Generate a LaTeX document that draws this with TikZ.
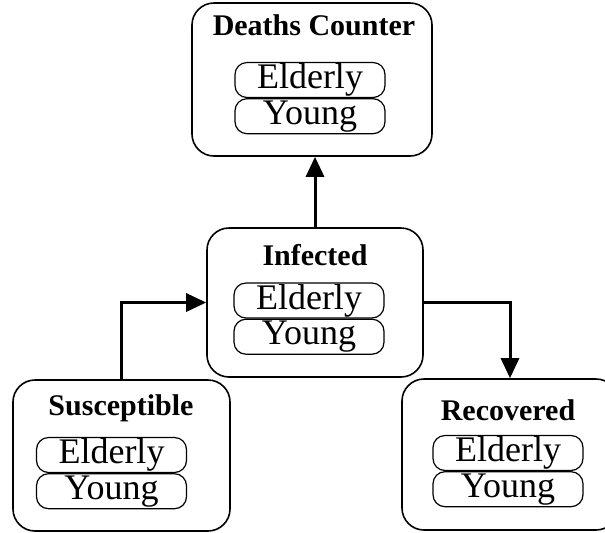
\documentclass[tikz,border=0pt]{standalone}
\usepackage{fontspec}
\setmainfont{Liberation Serif}
\usetikzlibrary{arrows.meta,positioning}
\begin{document}
\begin{tikzpicture}[x=0.5pt,y=-0.5pt]
% Styles
\tikzstyle{compartment}=[draw,line width=0.8pt,rounded corners=11pt,inner sep=0pt]
\tikzstyle{group}=[draw,line width=0.6pt,rounded corners=6pt,minimum width=75pt,minimum height=17.5pt,inner sep=0pt,font=\fontsize{18}{18}\selectfont]
\tikzstyle{title}=[font=\bfseries\fontsize{15}{15}\selectfont]
\tikzstyle{flow}=[line width=1.5pt,-{Triangle[length=10pt,width=9pt]}]

\clip (0,0) rectangle (605,532);

% draw the compartments
\foreach \name / \x / \y / \w / \h in {deaths/312/79.5/240/153, infected/315/302.5/216/149,
susceptible/121.5/455.5/217/151, recovered/510/454.5/216/151} {
\node[compartment, minimum width=\w*0.5pt, minimum height=\h*0.5pt] (\name) at (\x,\y) {};
}

% titles of the compartments
\node[title] (deaths-title) at (314,25) {Deaths Counter};
\node[title] (infected-title) at (315,255) {Infected};
\node[title] (susceptible-title) at (121,408) {Susceptible};
\node[title] (recovered-title) at (508,410) {Recovered};

% the two age groups in every compartment
\foreach \name / \x / \y in {deaths/310/80, infected/309/300.5, susceptible/111.5/455, recovered/508/453} {
\node[group] (\name-elderly) at (\x,\y) {Elderly};
\node[group, below=0pt of \name-elderly] (\name-young) {Young};
}

% add the flows between the compartments
\draw[flow] (infected.north) -- (infected.north |- deaths.south);
\draw[flow] (susceptible.north) |- (infected.west);
\draw[flow] (infected.east) -| (recovered.north);

\end{tikzpicture}
\end{document}
